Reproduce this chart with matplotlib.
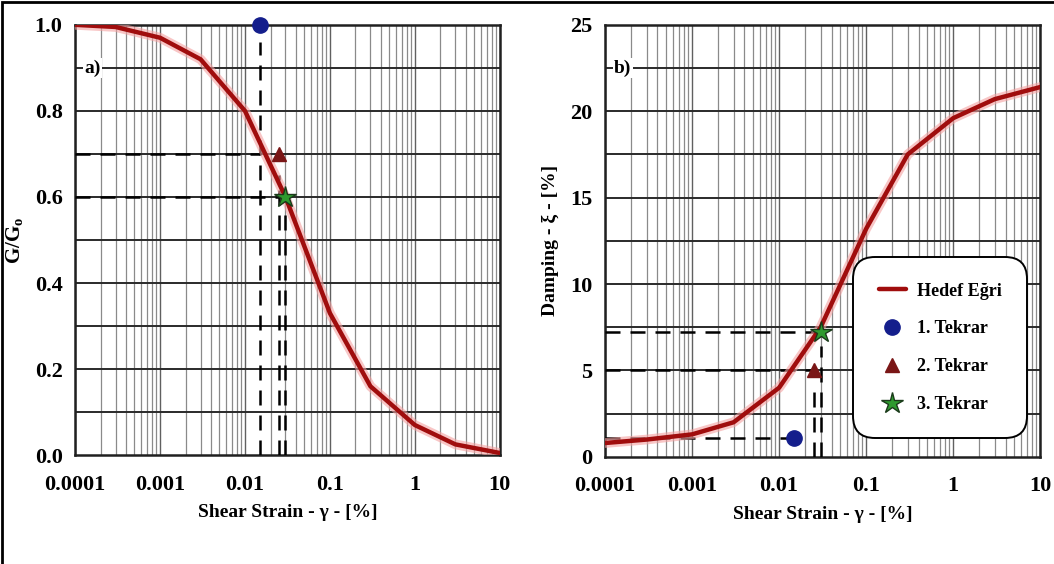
import numpy as np
import matplotlib
matplotlib.use("Agg")
import matplotlib.pyplot as plt
from matplotlib.ticker import FixedLocator, NullFormatter
from matplotlib.patches import Rectangle

plt.rcParams['font.family'] = ['Liberation Serif', 'DejaVu Serif']
plt.rcParams['font.weight'] = 'bold'
plt.rcParams['mathtext.fontset'] = 'custom'
plt.rcParams['mathtext.rm'] = 'Liberation Serif:bold'
plt.rcParams['mathtext.bf'] = 'Liberation Serif:bold'

# target curves
strain = [0.0001, 0.0003, 0.001, 0.003, 0.01, 0.03, 0.1, 0.3, 1, 3, 10]
g_ratio = [1.0, 0.995, 0.97, 0.92, 0.80, 0.60, 0.33, 0.16, 0.07, 0.025, 0.005]
damping = [0.8, 1.0, 1.3, 2.0, 4.0, 7.5, 13.2, 17.5, 19.6, 20.7, 21.4]

# trial points (1., 2., 3. Tekrar)
trial_strain = [0.015, 0.025, 0.03]
trial_g = [1.0, 0.7, 0.6]
trial_d = [1.1, 5.0, 7.2]

labels = ["Hedef Eğri", "1. Tekrar", "2. Tekrar", "3. Tekrar"]
xticks = [0.0001, 0.001, 0.01, 0.1, 1, 10]
xticklabels = ["0.0001", "0.001", "0.01", "0.1", "1", "10"]

curve_col = "#a00d0d"
glow_col = "#f4a0a0"
mk_style = [("o", "#141e8c", 11), ("^", "#7a1616", 10), ("*", "#2e9a2e", 16)]

fig = plt.figure(figsize=(10.54, 5.64), dpi=100)
fig.patches.append(Rectangle((0.002, -0.01), 1.2, 1.006, transform=fig.transFigure,
                             fill=False, edgecolor="black", lw=2))

ax1 = fig.add_axes([0.0712, 0.193, 0.403, 0.763])
ax2 = fig.add_axes([0.574, 0.190, 0.413, 0.766])


def setup(ax, ymax, ystep, ymajor):
    ax.set_xscale("log")
    ax.set_xlim(1e-4, 10)
    ax.set_ylim(0, ymax)
    minors = [m * 10.0 ** e for e in range(-4, 1) for m in range(2, 10)]
    for v in minors:
        ax.axvline(v, color="#8a8a8a", lw=0.9, zorder=0)
    for v in xticks:
        ax.axvline(v, color="#606060", lw=1.0, zorder=0)
    for v in np.arange(ystep, ymax, ystep):
        ax.axhline(v, color="#2a2a2a", lw=1.4, zorder=0)
    ax.xaxis.set_major_locator(FixedLocator(xticks))
    ax.xaxis.set_minor_locator(FixedLocator([]))
    ax.xaxis.set_minor_formatter(NullFormatter())
    ax.set_xticklabels(xticklabels)
    ax.set_yticks(np.arange(0, ymax + 1e-9, ymajor))
    ax.tick_params(axis="x", length=0, labelsize=16, pad=14)
    ax.tick_params(axis="y", length=0, labelsize=16, pad=9)
    for s in ax.spines.values():
        s.set_linewidth(1.8)
        s.set_color("#202020")
    ax.set_xlabel("Shear Strain - γ - [%]", fontsize=14, fontweight="bold", labelpad=7)


setup(ax1, 1.0, 0.1, 0.2)
ax1.set_yticklabels(["0.0", "0.2", "0.4", "0.6", "0.8", "1.0"])
ax1.set_ylabel(r"G/G$_\mathrm{o}$", fontsize=15, fontweight="bold", labelpad=6)
ax1.text(1.6e-4, 0.9, "a)", fontsize=14, fontweight="bold", va="center", ha="center",
         bbox=dict(facecolor="white", edgecolor="none", pad=1))

setup(ax2, 25, 2.5, 5)
ax2.set_ylabel("Damping - ξ - [%]", fontsize=14, fontweight="bold", labelpad=8)
ax2.text(1.6e-4, 22.5, "b)", fontsize=14, fontweight="bold", va="center", ha="center",
         bbox=dict(facecolor="white", edgecolor="none", pad=1))

dash = dict(color="black", lw=1.8, ls=(0, (6, 4)), zorder=3)

# left panel guide lines
ax1.plot([1e-4, trial_strain[0]], [trial_g[1], trial_g[1]], **dash)
ax1.plot([1e-4, trial_strain[2]], [trial_g[2], trial_g[2]], **dash)
ax1.plot([trial_strain[0], trial_strain[0]], [0, trial_g[0] - 0.04], **dash)
ax1.plot([trial_strain[1], trial_strain[1]], [0, trial_g[1] - 0.05], **dash)
ax1.plot([trial_strain[2], trial_strain[2]], [0, trial_g[2] - 0.04], **dash)

# right panel guide lines
ax2.plot([1e-4, trial_strain[0] * 0.85], [trial_d[0], trial_d[0]], **dash)
ax2.plot([1e-4, trial_strain[1]], [trial_d[1], trial_d[1]], **dash)
ax2.plot([1e-4, trial_strain[2]], [trial_d[2], trial_d[2]], **dash)
ax2.plot([trial_strain[1], trial_strain[1]], [0, trial_d[1] - 0.9], **dash)
ax2.plot([trial_strain[2], trial_strain[2]], [0, trial_d[2] - 0.8], **dash)

handles = []
for ax, yv, tv in [(ax1, g_ratio, trial_g), (ax2, damping, trial_d)]:
    ax.plot(strain, yv, color=glow_col, lw=7, alpha=0.6, zorder=4, solid_capstyle="round")
    h0, = ax.plot(strain, yv, color=curve_col, lw=3.2, zorder=5, solid_capstyle="round")
    hs = [h0]
    for (m, c, s), xs, ys in zip(mk_style, trial_strain, tv):
        h, = ax.plot([xs], [ys], ls="none", marker=m, color=c, markersize=s,
                     markeredgecolor="#1a3a1a" if m == "*" else c, markeredgewidth=1,
                     zorder=6, clip_on=False)
        hs.append(h)
    handles = hs

leg = ax2.legend(handles, labels, loc="lower right", bbox_to_anchor=(0.977, 0.035),
                 fontsize=13, labelspacing=1.15, borderpad=1.1, handlelength=1.5,
                 handletextpad=0.6, framealpha=1, edgecolor="black", fancybox=True)
leg.get_frame().set_linewidth(1.4)
leg.get_frame().set_boxstyle("round,pad=0.3,rounding_size=1.2")
for t in leg.get_texts():
    t.set_fontweight("bold")

fig.savefig("out.png", dpi=100)
